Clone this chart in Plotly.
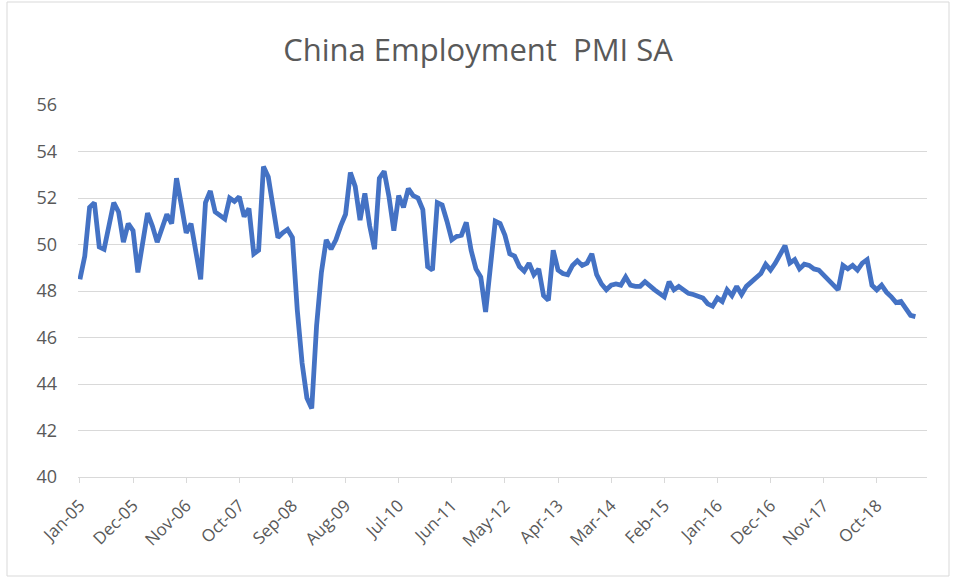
import plotly.graph_objects as go

# Monthly employment sub-index, Jan 2005 .. Jun 2019 (seasonally adjusted)
pmi_values = [
    48.5, 49.5, 51.6, 51.8, 49.9, 49.8, 50.8, 51.8, 51.4, 50.1, 50.9, 50.6,   # 2005
    48.8, 50.1, 51.35, 50.8, 50.1, 50.7, 51.3, 50.9, 52.85, 51.7, 50.5, 50.9, # 2006
    49.7, 48.5, 51.8, 52.3, 51.4, 51.25, 51.1, 52.0, 51.85, 52.05, 51.2, 51.55, # 2007
    49.6, 49.75, 53.35, 52.9, 51.5, 50.3, 50.5, 50.65, 50.3, 47.2, 44.9, 43.4,  # 2008
    42.95, 46.5, 48.8, 50.2, 49.8, 50.2, 50.8, 51.3, 53.1, 52.5, 51.05, 52.2,   # 2009
    50.8, 49.8, 52.85, 53.15, 52.05, 50.6, 52.1, 51.6, 52.4, 52.1, 52.0, 51.5,  # 2010
    49.05, 48.9, 51.8, 51.7, 51.0, 50.2, 50.35, 50.4, 50.95, 49.75, 48.95, 48.6, # 2011
    47.1, 49.05, 51.0, 50.9, 50.4, 49.6, 49.5, 49.05, 48.85, 49.2, 48.7, 48.95, # 2012
    47.8, 47.6, 49.75, 48.9, 48.75, 48.7, 49.1, 49.3, 49.1, 49.2, 49.6, 48.7,   # 2013
    48.3, 48.05, 48.25, 48.3, 48.25, 48.6, 48.25, 48.2, 48.2, 48.4, 48.2, 48.05, # 2014
    47.9, 47.75, 48.4, 48.05, 48.2, 48.05, 47.9, 47.85, 47.8, 47.7, 47.45, 47.35, # 2015
    47.7, 47.55, 48.05, 47.8, 48.2, 47.85, 48.2, 48.4, 48.6, 48.75, 49.15, 48.9, # 2016
    49.2, 49.6, 49.95, 49.2, 49.35, 48.95, 49.15, 49.1, 48.95, 48.9, 48.7, 48.45, # 2017
    48.25, 48.05, 49.1, 48.95, 49.1, 48.9, 49.2, 49.35, 48.25, 48.05, 48.25, 47.95, # 2018
    47.75, 47.5, 47.55, 47.2, 46.95, 46.9,                                      # 2019
]

month_names = ["Jan", "Feb", "Mar", "Apr", "May", "Jun",
               "Jul", "Aug", "Sep", "Oct", "Nov", "Dec"]
start_year = 2005
month_index = list(range(len(pmi_values)))
month_labels = [f"{month_names[i % 12]}-{(start_year + i // 12) % 100:02d}"
                for i in month_index]

# Category labels shown every 11 months
tick_step = 11
tick_positions = month_index[::tick_step]
tick_labels = month_labels[::tick_step]

y_ticks = [40, 42, 44, 46, 48, 50, 52, 54, 56]

font_family = "'Open Sans', sans-serif"
text_grey = "#595959"
grid_grey = "#d9d9d9"

fig = go.Figure()
fig.add_trace(go.Scatter(
    x=month_index,
    y=pmi_values,
    mode="lines",
    line=dict(color="#4472C4", width=4.8),
    text=month_labels,
    hovertemplate="%{text}: %{y}<extra></extra>",
    showlegend=False,
))

fig.update_layout(
    width=956,
    height=580,
    paper_bgcolor="white",
    plot_bgcolor="white",
    margin=dict(l=78, r=29, t=105, b=103),
    title=dict(
        text="China Employment  PMI SA",
        x=0.5,
        xanchor="center",
        y=1 - 50 / 580,
        yanchor="middle",
        font=dict(family=font_family, size=31, color=text_grey),
    ),
    font=dict(family=font_family, color=text_grey),
)

fig.update_xaxes(
    range=[-0.4, 175.4],
    tickmode="array",
    tickvals=tick_positions,
    ticktext=tick_labels,
    tickangle=-45,
    tickfont=dict(size=17, color=text_grey),
    ticklabelstandoff=6,
    showgrid=False,
    zeroline=False,
    showline=True,
    linecolor=grid_grey,
    linewidth=1,
    ticks="outside",
    ticklen=5,
    tickcolor=grid_grey,
)

fig.update_yaxes(
    range=[40, 56],
    tickmode="array",
    tickvals=y_ticks,
    tickfont=dict(size=18, color=text_grey),
    showgrid=True,
    gridcolor=grid_grey,
    gridwidth=1,
    zeroline=False,
    showline=False,
    ticks="",
    ticklabelstandoff=20,
)

# Chart-area border
plot_w = 956 - 78 - 29
plot_h = 580 - 105 - 103
fig.add_shape(
    type="rect",
    xref="paper", yref="paper",
    x0=(7 - 78) / plot_w, x1=(949 - 78) / plot_w,
    y0=(477 - 576) / plot_h, y1=(477 - 2) / plot_h,
    line=dict(color=grid_grey, width=1),
    fillcolor="rgba(0,0,0,0)",
    layer="below",
)

fig.write_html("out.html")
